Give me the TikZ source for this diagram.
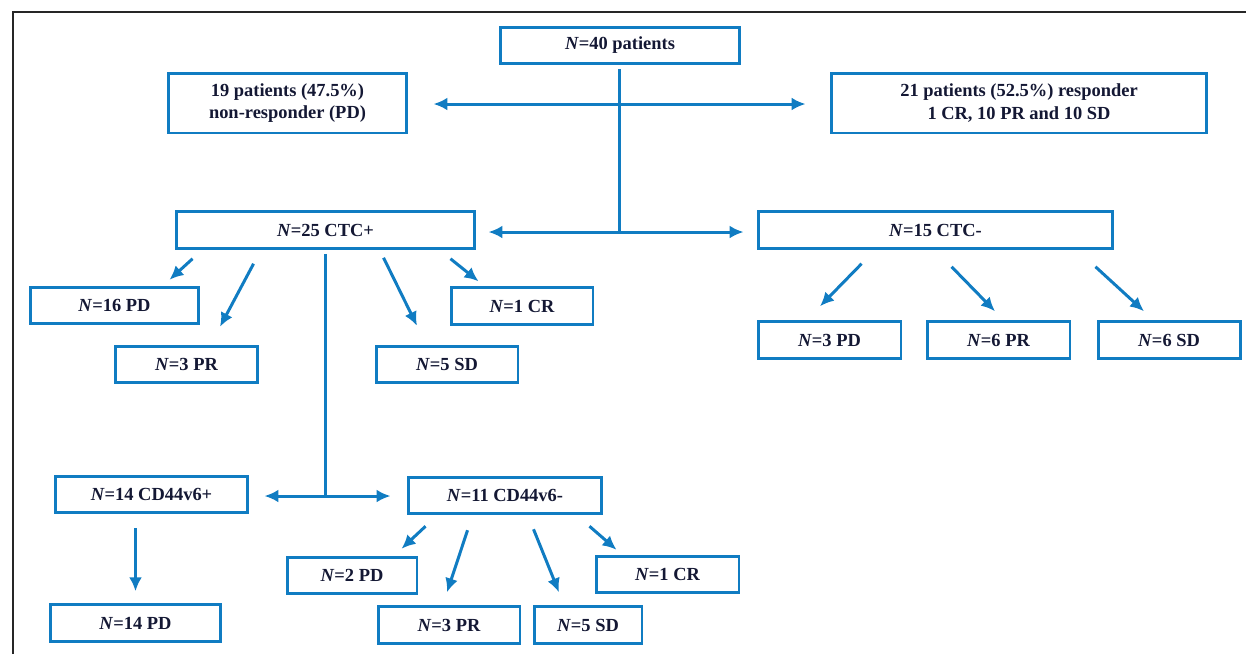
\documentclass[tikz,border=0pt]{standalone}
\usepackage{fontspec}
\setmainfont{Liberation Serif}
\usepackage{tikz}
\usetikzlibrary{positioning,calc,arrows.meta}
\definecolor{BoxBlue}{RGB}{16,124,194}
\definecolor{InkNavy}{RGB}{20,24,52}
\tikzset{
  box/.style={rectangle, draw=BoxBlue, line width=1.7pt, fill=white, align=center,
    minimum height=0.73cm, inner sep=0pt, text=InkNavy,
    font=\fontsize{10.5}{13}\selectfont\bfseries},
  tallbox/.style={box, minimum height=1.2cm},
  link/.style={draw=BoxBlue, line width=1.7pt},
  arrow/.style={link, -{Latex[length=2.8mm,width=2.6mm]}},
  frame/.style={draw=black!85, line width=0.8pt}
}
\newcommand{\ncount}[1]{\textit{N}=#1}

\begin{document}
\begin{tikzpicture}[x=0.02cm, y=-0.02cm]
  \useasboundingbox (0,0) rectangle (1246,654);
  \draw[frame] (13,654) -- (13,12) -- (1246,12);

  % first split: response
  \node[box, minimum width=4.8cm] (total) at (620,45.5) {\ncount{40} patients};
  \node[tallbox, minimum width=4.78cm] (nonresp) at (287.5,103) {19 patients (47.5\%)\\non-responder (PD)};
  \node[tallbox, minimum width=7.52cm] (resp) at (1019,103) {21 patients (52.5\%) responder\\1 CR, 10 PR and 10 SD};

  % second split: CTC status
  \node[box, minimum width=5.98cm] (ctcpos) at (325.5,230) {\ncount{25} CTC+};
  \node[box, minimum width=7.1cm] (ctcneg) at (935.5,230) {\ncount{15} CTC-};

  \node[box, minimum width=3.38cm] (pdA) at (114.5,305.5) {\ncount{16} PD};
  \node[box, minimum width=2.86cm] (prA) at (186.5,364.5) {\ncount{3} PR};
  \node[box, minimum width=2.84cm] (sdA) at (447,364.5) {\ncount{5} SD};
  \node[box, minimum width=2.84cm] (crA) at (522,306) {\ncount{1} CR};

  \node[box, minimum width=2.86cm] (pdB) at (829.5,340) {\ncount{3} PD};
  \node[box, minimum width=2.86cm] (prB) at (998.5,340) {\ncount{6} PR};
  \node[box, minimum width=2.84cm] (sdB) at (1169,340) {\ncount{6} SD};

  % third split: CD44v6 status
  \node[box, minimum width=3.86cm] (cdpos) at (151.5,494.5) {\ncount{14} CD44v6+};
  \node[box, minimum width=3.88cm] (cdneg) at (505,495.5) {\ncount{11} CD44v6-};

  \node[box, minimum width=3.42cm] (pdC) at (135.5,623) {\ncount{14} PD};
  \node[box, minimum width=2.6cm] (pdD) at (352,575.5) {\ncount{2} PD};
  \node[box, minimum width=2.84cm] (prD) at (449,625) {\ncount{3} PR};
  \node[box, minimum width=2.16cm] (sdD) at (588,625) {\ncount{5} SD};
  \node[box, minimum width=2.86cm] (crD) at (667.5,574.5) {\ncount{1} CR};

  % hubs
  \coordinate (hubA) at (619,104);
  \coordinate (hubB) at (619,232);
  \coordinate (hubC) at (325.5,496);

  \draw[link, shorten <=0.08cm] (total.south -| hubA) -- (hubB);
  \draw[arrow, shorten >=0.5cm] (hubA) -- (hubA -| nonresp.east);
  \draw[arrow, shorten >=0.48cm] (hubA) -- (hubA -| resp.west);
  \draw[arrow, shorten >=0.24cm] (hubB) -- (hubB -| ctcpos.east);
  \draw[arrow, shorten >=0.26cm] (hubB) -- (hubB -| ctcneg.west);

  \draw[arrow] ($(ctcpos.south west)+(18,9)$) -- ($(pdA.north east)+(-31,-6)$);
  \draw[arrow] ($(ctcpos.south west)+(79,14)$) -- ($(prA.north)+(33.5,-18)$);
  \draw[arrow] ($(ctcpos.south west)+(209,8)$) -- ($(sdA.north)+(-30,-19)$);
  \draw[arrow] ($(ctcpos.south east)+(-26,9)$) -- ($(crA.north west)+(29,-5)$);

  \draw[arrow] ($(ctcneg.south west)+(105,14)$) -- ($(pdB.north)+(-9.5,-14)$);
  \draw[arrow] ($(ctcneg.south west)+(195,17)$) -- ($(prB.north)+(-3.5,-9)$);
  \draw[arrow] ($(ctcneg.south east)+(-19,17)$) -- ($(sdB.north)+(-25,-9)$);

  \draw[link, shorten <=0.08cm] (ctcpos.south) -- (hubC);
  \draw[arrow, shorten >=0.3cm] (hubC) -- (hubC -| cdpos.east);
  \draw[arrow, shorten >=0.32cm] (hubC) -- (hubC -| cdneg.west);

  \draw[arrow, shorten <=0.28cm, shorten >=0.24cm] (pdC.north |- cdpos.south) -- (pdC.north);

  \draw[arrow] ($(cdneg.south west)+(19,11)$) -- ($(pdD.north east)+(-17,-7)$);
  \draw[arrow] ($(cdneg.south west)+(61,15)$) -- ($(prD.north)+(-2,-13)$);
  \draw[arrow] ($(cdneg.south west)+(127,14)$) -- ($(sdD.north)+(-29,-13)$);
  \draw[arrow] ($(cdneg.south east)+(-14,11)$) -- ($(crD.north west)+(22,-5)$);
\end{tikzpicture}
\end{document}
